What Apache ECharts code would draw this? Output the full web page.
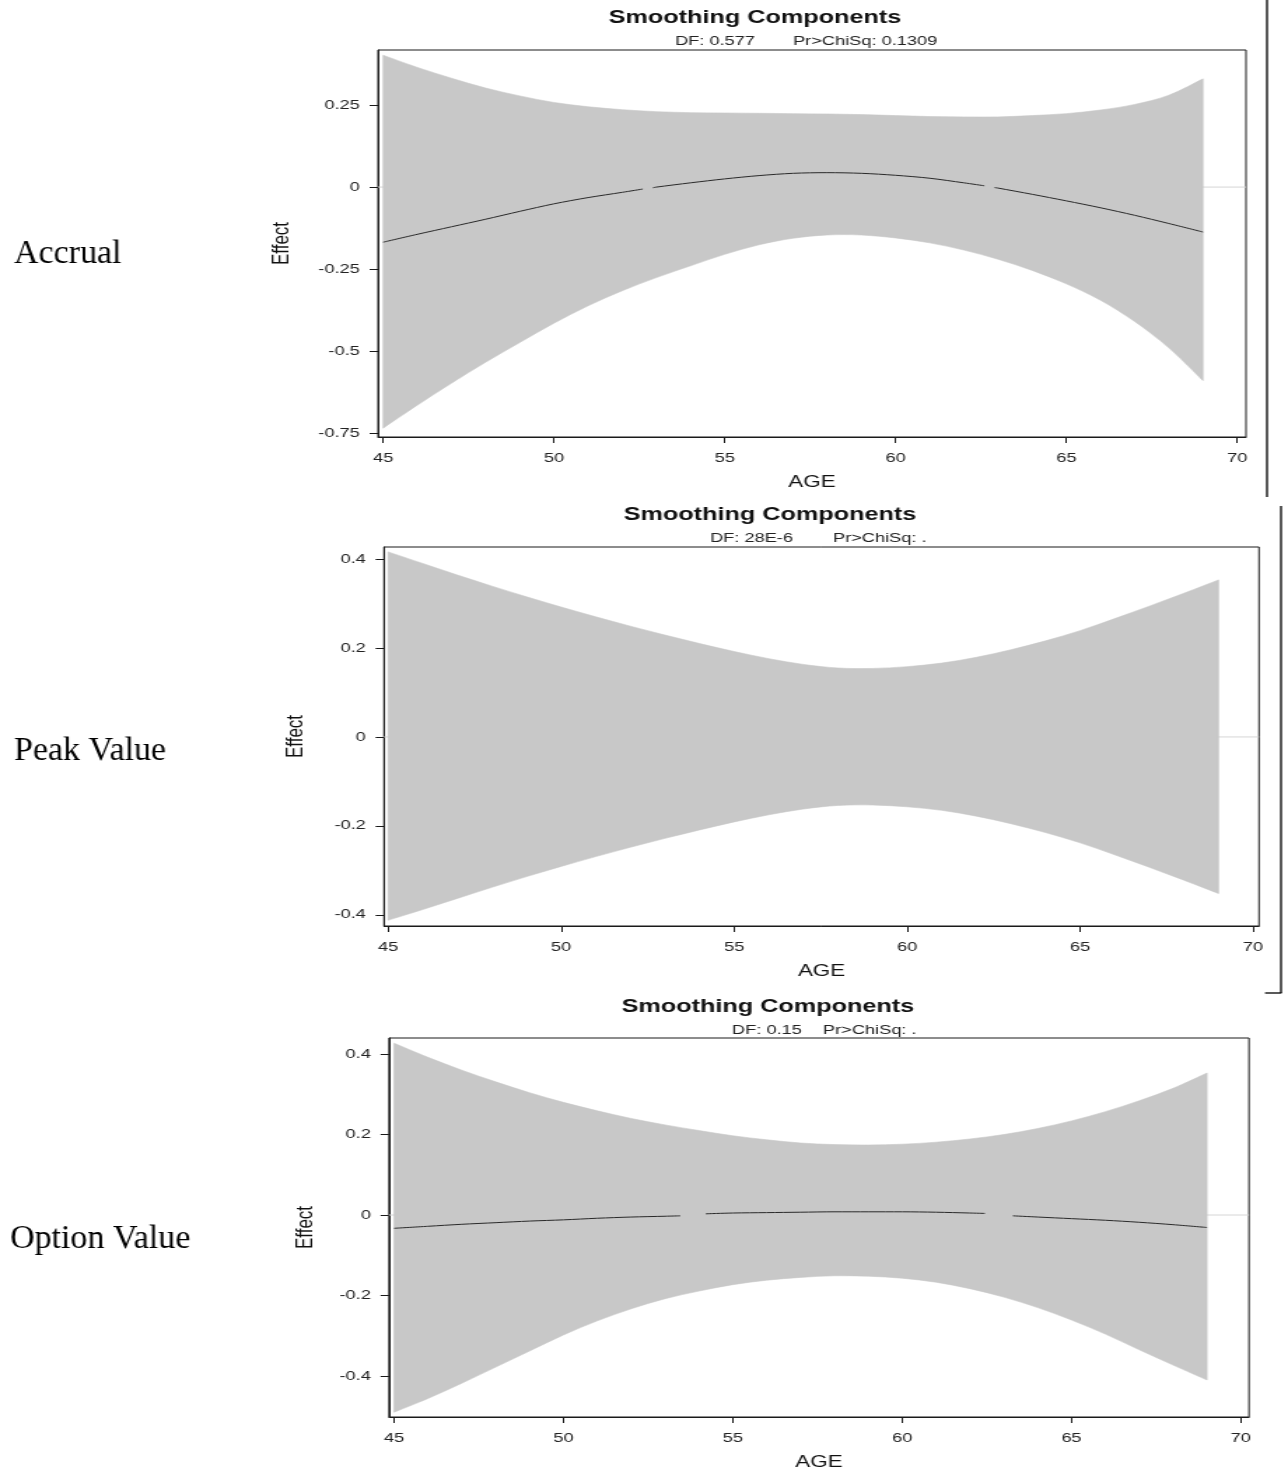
<!DOCTYPE html>
<html>
<head>
<meta charset="utf-8">
<title>Smoothing Components by AGE</title>
<script src="https://cdn.jsdelivr.net/npm/echarts@6/dist/echarts.min.js"></script>
<style>
  html, body { margin: 0; padding: 0; background: #ffffff; overflow: hidden; }
  #stage { width: 1284px; height: 1477px; overflow: hidden; }
  /* the SAS panels are rendered horizontally stretched */
  #chart { width: 917px; height: 1477px; transform: scaleX(1.4); transform-origin: 0 0; }
</style>
</head>
<body>
<div id="stage"><div id="chart"></div></div>
<script>
const STRETCH = 1.4;

// ---- data ---------------------------------------------------------------
const AGES = [45, 46, 47, 48, 49, 50, 51, 52, 53, 54, 55, 56, 57, 58, 59, 60, 61, 62, 63, 64, 65, 66, 67, 68, 69];
const AGE_TICKS = [45, 50, 55, 60, 65, 70];
const AGE_TICK_LABELS = ['45', '50', '55', '60', '65', '70'];

// Accrual
const ACCRUAL_TICKS = [-0.75, -0.5, -0.25, 0, 0.25];
const ACCRUAL_TICK_LABELS = ['-0.75', '-0.5', '-0.25', '0', '0.25'];
const ACCRUAL_UPPER = [0.402, 0.365, 0.332, 0.302, 0.278, 0.258, 0.245, 0.236, 0.230, 0.227, 0.226, 0.225, 0.224, 0.223, 0.221, 0.218, 0.215, 0.214, 0.214, 0.218, 0.224, 0.235, 0.252, 0.280, 0.330];
const ACCRUAL_LOWER = [-0.735, -0.665, -0.598, -0.534, -0.474, -0.415, -0.362, -0.316, -0.276, -0.240, -0.205, -0.176, -0.156, -0.146, -0.146, -0.155, -0.170, -0.192, -0.220, -0.254, -0.295, -0.345, -0.410, -0.490, -0.590];
const ACCRUAL_LINE_AGES = [45, 46, 47, 48, 49, 50, 51, 52, 52.6, 52.75, 52.9, 53, 54, 55, 56, 57, 58, 59, 60, 61, 62, 62.6, 62.75, 62.9, 63, 64, 65, 66, 67, 68, 69];
const ACCRUAL_LINE = [-0.168, -0.144, -0.121, -0.098, -0.074, -0.051, -0.032, -0.016, -0.006, null, -0.002, 0.000, 0.013, 0.025, 0.035, 0.042, 0.044, 0.042, 0.036, 0.027, 0.013, 0.004, null, -0.0015, -0.003, -0.022, -0.042, -0.063, -0.086, -0.111, -0.137];

// Peak Value
const PEAK_TICKS = [-0.4, -0.2, 0, 0.2, 0.4];
const PEAK_TICK_LABELS = ['-0.4', '-0.2', '0', '0.2', '0.4'];
const PEAK_UPPER = [0.416, 0.390, 0.364, 0.339, 0.315, 0.292, 0.270, 0.249, 0.229, 0.210, 0.192, 0.176, 0.163, 0.155, 0.154, 0.158, 0.166, 0.179, 0.196, 0.216, 0.239, 0.266, 0.294, 0.323, 0.353];
const PEAK_LOWER = [-0.412, -0.388, -0.363, -0.338, -0.314, -0.291, -0.269, -0.248, -0.228, -0.209, -0.191, -0.175, -0.162, -0.154, -0.153, -0.157, -0.165, -0.178, -0.195, -0.215, -0.238, -0.265, -0.293, -0.322, -0.352];

// Option Value
const OPTION_TICKS = [-0.4, -0.2, 0, 0.2, 0.4];
const OPTION_TICK_LABELS = ['-0.4', '-0.2', '0', '0.2', '0.4'];
const OPTION_UPPER = [0.427, 0.392, 0.360, 0.331, 0.304, 0.280, 0.259, 0.240, 0.224, 0.210, 0.197, 0.187, 0.179, 0.175, 0.174, 0.176, 0.181, 0.189, 0.200, 0.215, 0.234, 0.257, 0.284, 0.315, 0.353];
const OPTION_LOWER = [-0.490, -0.456, -0.418, -0.378, -0.338, -0.298, -0.263, -0.233, -0.208, -0.189, -0.173, -0.162, -0.155, -0.151, -0.152, -0.157, -0.167, -0.183, -0.204, -0.230, -0.261, -0.296, -0.335, -0.373, -0.410];
const OPTION_LINE_AGES = [45, 46, 47, 48, 49, 50, 51, 52, 53, 53.45, 53.8, 54.2, 55, 56, 57, 58, 59, 60, 61, 62, 62.44, 62.85, 63.27, 64, 65, 66, 67, 68, 69];
const OPTION_LINE = [-0.033, -0.028, -0.023, -0.019, -0.015, -0.012, -0.008, -0.005, -0.003, -0.002, null, 0.003, 0.005, 0.006, 0.007, 0.008, 0.008, 0.008, 0.007, 0.005, 0.004, null, -0.002, -0.005, -0.009, -0.013, -0.018, -0.024, -0.031];

// ---- panel layout (page pixels, before the horizontal stretch) ------------
const PANELS = [
  {
    rowLabel: 'Accrual', df: 'DF: 0.577', pr: 'Pr>ChiSq: 0.1309',
    upper: ACCRUAL_UPPER, lower: ACCRUAL_LOWER, lineAges: ACCRUAL_LINE_AGES, line: ACCRUAL_LINE,
    yTicks: ACCRUAL_TICKS, yLabels: ACCRUAL_TICK_LABELS,
    box: { left: 378, top: 50, right: 1246, bottom: 437 }, xRange: [44.85, 70.26], yRange: [-0.762, 0.418],
    titleX: 755, titleY: 18, dfX: 675, prX: 793, subY: 41, rowX: 14, rowY: 254, effectGap: 60
  },
  {
    rowLabel: 'Peak Value', df: 'DF: 28E-6', pr: 'Pr>ChiSq: .',
    upper: PEAK_UPPER, lower: PEAK_LOWER, lineAges: null, line: null,
    yTicks: PEAK_TICKS, yLabels: PEAK_TICK_LABELS,
    box: { left: 384, top: 547, right: 1259, bottom: 926 }, xRange: [44.88, 70.17], yRange: [-0.425, 0.427],
    titleX: 770, titleY: 515, dfX: 710, prX: 833, subY: 538, rowX: 14, rowY: 751, effectGap: 54
  },
  {
    rowLabel: 'Option Value', df: 'DF: 0.15', pr: 'Pr>ChiSq: .',
    upper: OPTION_UPPER, lower: OPTION_LOWER, lineAges: OPTION_LINE_AGES, line: OPTION_LINE,
    yTicks: OPTION_TICKS, yLabels: OPTION_TICK_LABELS,
    box: { left: 389, top: 1038, right: 1249, bottom: 1417 }, xRange: [44.85, 70.24], yRange: [-0.502, 0.44],
    titleX: 768, titleY: 1007, dfX: 732, prX: 823, subY: 1030, rowX: 10, rowY: 1239, effectGap: 51
  }
];

const SANS = '"Liberation Sans", Arial, sans-serif';
const INK = '#1a1a1a';
const BAND = '#c8c8c8';

function labelFor(ticks, labels) {
  return function (v) {
    for (let i = 0; i < ticks.length; i++) if (Math.abs(ticks[i] - v) < 1e-9) return labels[i];
    return '';
  };
}

// smooth Catmull-Rom curve through screen points (no initial move)
function spline(pts) {
  let d = '';
  for (let i = 0; i < pts.length - 1; i++) {
    const p0 = pts[Math.max(i - 1, 0)], p1 = pts[i], p2 = pts[i + 1], p3 = pts[Math.min(i + 2, pts.length - 1)];
    const c1 = [p1[0] + (p2[0] - p0[0]) / 6, p1[1] + (p2[1] - p0[1]) / 6];
    const c2 = [p2[0] - (p3[0] - p1[0]) / 6, p2[1] - (p3[1] - p1[1]) / 6];
    d += ' C' + c1[0] + ',' + c1[1] + ' ' + c2[0] + ',' + c2[1] + ' ' + p2[0] + ',' + p2[1];
  }
  return d;
}

const grids = [], xAxes = [], yAxes = [], series = [], graphics = [];

PANELS.forEach(function (p, k) {
  const b = p.box;
  grids.push({
    left: b.left / STRETCH, top: b.top,
    width: (b.right - b.left) / STRETCH, height: b.bottom - b.top,
    show: true, borderColor: INK, borderWidth: 1, backgroundColor: 'transparent'
  });

  xAxes.push({
    gridIndex: k, type: 'value', min: p.xRange[0], max: p.xRange[1],
    axisLine: { show: true, onZero: false, lineStyle: { color: INK, width: 1 } },
    axisTick: { show: true, length: 6, customValues: AGE_TICKS, lineStyle: { color: INK, width: 1 } },
    axisLabel: { customValues: AGE_TICKS, margin: 15, formatter: labelFor(AGE_TICKS, AGE_TICK_LABELS), color: '#222', fontSize: 13, fontFamily: SANS },
    splitLine: { show: false },
    name: 'AGE', nameLocation: 'middle', nameGap: 38,
    nameTextStyle: { fontSize: 16, color: '#111', fontFamily: SANS }
  });

  yAxes.push({
    gridIndex: k, type: 'value', min: p.yRange[0], max: p.yRange[1],
    axisLine: { show: true, onZero: false, lineStyle: { color: INK, width: 1 } },
    axisTick: { show: true, length: 6, customValues: p.yTicks, lineStyle: { color: INK, width: 1 } },
    axisLabel: { customValues: p.yTicks, margin: 13, formatter: labelFor(p.yTicks, p.yLabels), color: '#222', fontSize: 13, fontFamily: SANS },
    splitLine: { show: false },
    name: 'Effect', nameLocation: 'middle', nameGap: p.effectGap, nameRotate: 90,
    nameTextStyle: { fontSize: 17, color: '#111', fontFamily: SANS }
  });

  // zero reference line, drawn under the confidence band
  series.push({
    type: 'line', xAxisIndex: k, yAxisIndex: k, z: 1, silent: true, symbol: 'none',
    data: [[p.xRange[0], 0], [p.xRange[1], 0]],
    lineStyle: { color: '#d6d6d6', width: 1 }
  });

  // confidence band between lower and upper limits
  const upper = p.upper, lower = p.lower;
  series.push({
    type: 'custom', xAxisIndex: k, yAxisIndex: k, z: 2, silent: true,
    data: AGES.map(function (a, j) { return [a, lower[j], upper[j]]; }),
    encode: { x: 0, y: [1, 2] },
    renderItem: function (params, api) {
      if (params.dataIndex !== 0) return null;
      const top = AGES.map(function (a, j) { return api.coord([a, upper[j]]); });
      const bot = AGES.map(function (a, j) { return api.coord([a, lower[j]]); }).reverse();
      const d = 'M' + top[0][0] + ',' + top[0][1] + spline(top) +
        ' L' + bot[0][0] + ',' + bot[0][1] + spline(bot) + ' Z';
      return { type: 'path', shape: { pathData: d }, style: { fill: BAND, stroke: BAND, lineWidth: 0.6 } };
    }
  });

  // fitted smoothing component
  if (p.line) {
    series.push({
      type: 'line', xAxisIndex: k, yAxisIndex: k, z: 4, silent: true, symbol: 'none',
      connectNulls: false, smooth: 0.3,
      data: p.lineAges.map(function (a, j) { return [a, p.line[j] === null ? '-' : p.line[j]]; }),
      lineStyle: { color: '#2a2a2a', width: 1 }
    });
  }

  // panel headings
  graphics.push({
    type: 'text', x: p.titleX / STRETCH, y: p.titleY, silent: true,
    style: { text: 'Smoothing Components', font: 'bold 18px ' + SANS, fill: '#111', align: 'center', verticalAlign: 'middle' }
  });
  graphics.push({
    type: 'text', x: p.dfX / STRETCH, y: p.subY, silent: true,
    style: { text: p.df, font: '13px ' + SANS, fill: '#222', align: 'left', verticalAlign: 'middle' }
  });
  graphics.push({
    type: 'text', x: p.prX / STRETCH, y: p.subY, silent: true,
    style: { text: p.pr, font: '13px ' + SANS, fill: '#222', align: 'left', verticalAlign: 'middle' }
  });

  // row label on the left (drawn unstretched)
  graphics.push({
    type: 'text', x: p.rowX / STRETCH, y: p.rowY, scaleX: 1 / STRETCH, silent: true,
    style: { text: p.rowLabel, font: '34px "Liberation Serif", "Times New Roman", serif', fill: '#000', align: 'left', verticalAlign: 'middle' }
  });
});

// brackets on the right edge
graphics.push({ type: 'line', silent: true, shape: { x1: 1267 / STRETCH, y1: 0, x2: 1267 / STRETCH, y2: 497 }, style: { stroke: '#000', lineWidth: 1.3 } });
graphics.push({ type: 'line', silent: true, shape: { x1: 1281 / STRETCH, y1: 506, x2: 1281 / STRETCH, y2: 993 }, style: { stroke: '#000', lineWidth: 1.3 } });
graphics.push({ type: 'line', silent: true, shape: { x1: 1265 / STRETCH, y1: 993, x2: 1281.5 / STRETCH, y2: 993 }, style: { stroke: '#000', lineWidth: 1.3 } });

const chart = echarts.init(document.getElementById('chart'), null, { renderer: 'canvas' });
chart.setOption({
  backgroundColor: '#ffffff',
  animation: false,
  grid: grids,
  xAxis: xAxes,
  yAxis: yAxes,
  series: series,
  graphic: graphics
});
</script>
</body>
</html>
